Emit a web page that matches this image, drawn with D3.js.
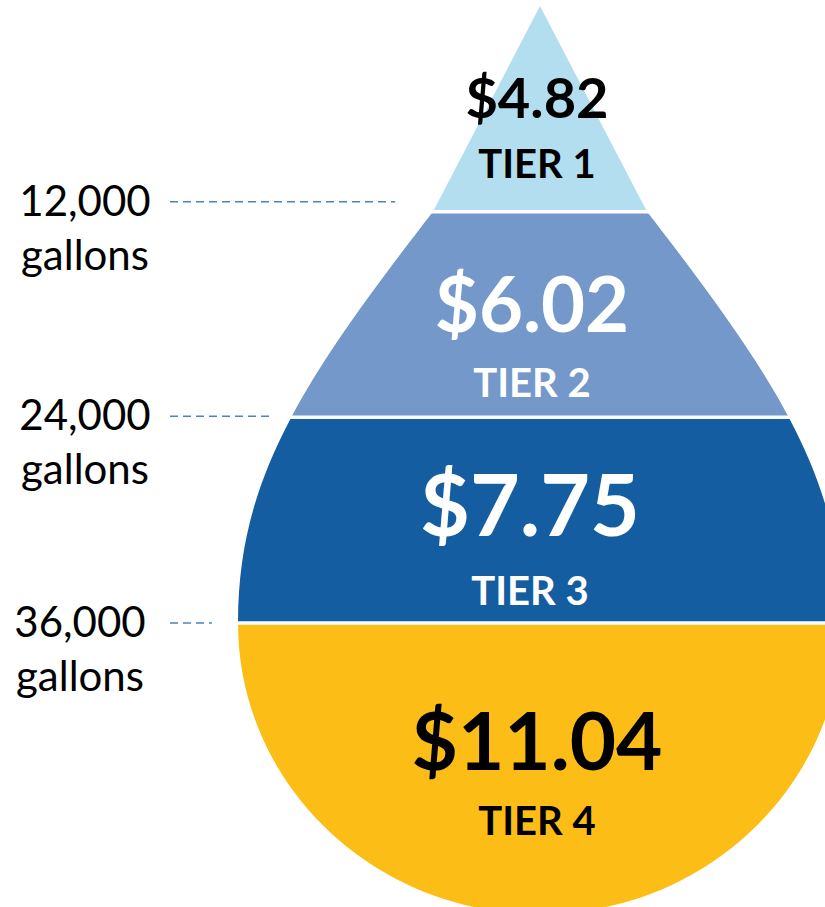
<!DOCTYPE html>
<html>
<head>
<meta charset="utf-8">
<script src="https://cdn.jsdelivr.net/npm/d3@7"></script>
<style>
  body { margin: 0; background: #fff; }
  svg { display: block; }
</style>
</head>
<body>
<div id="my_dataviz"></div>
<script>
// data: price per 1,000 gallons for each tier, and the usage breaks between tiers
var tierNames = ["TIER 1", "TIER 2", "TIER 3", "TIER 4"];
var tierRates = [4.82, 6.02, 7.75, 11.04];
var tierBreaks = [0, 12000, 24000, 36000];
var breakLabels = ["12,000", "24,000", "36,000"];
var breakUnit = "gallons";

// styles
var tierColors = ["#B2DEEF", "#7398C9", "#145DA0", "#FCBE16"];
var textColors = ["#000", "#fff", "#fff", "#000"];
var valueSizes = [56, 76, 86, 80];
var labelSize = 40;

var width = 825, height = 907;
var cx = 540;          // centre line of the drop
var gap = 3.5;         // white gap between tiers

var svg = d3.select("#my_dataviz")
  .append("svg")
    .attr("width", width)
    .attr("height", height);

// gallons -> vertical position (tip of the drop is 0 gallons)
var y = d3.scaleLinear()
  .domain([0, 36000])
  .range([6, 623]);

// drop outline: straight tip, curved shoulders, elliptical bottom
var shoulderW = 107, maxW = 302, bottomR = 291;
function dropPath() {
  var p = d3.path();
  var ys = y(12000), yw = y(36000);
  p.moveTo(cx, y(0));
  p.lineTo(cx - shoulderW, ys);
  p.bezierCurveTo(cx - shoulderW - 136, ys + 175, cx - maxW, yw - 140, cx - maxW, yw);
  // bottom half ellipse drawn as two quarter curves
  var k = 0.5523;
  p.bezierCurveTo(cx - maxW, yw + bottomR * k, cx - maxW * k, yw + bottomR, cx, yw + bottomR);
  p.bezierCurveTo(cx + maxW * k, yw + bottomR, cx + maxW, yw + bottomR * k, cx + maxW, yw);
  p.bezierCurveTo(cx + maxW, yw - 140, cx + shoulderW + 136, ys + 175, cx + shoulderW, ys);
  p.closePath();
  return p.toString();
}
function leftEdge(yy) {
  // rough left edge used to stop the dashed guide lines
  if (yy <= y(12000)) return cx - shoulderW * (yy - y(0)) / (y(12000) - y(0));
  var t = (yy - y(12000)) / (y(36000) - y(12000));
  return cx - (shoulderW + (maxW - shoulderW) * Math.sin(t * Math.PI / 2));
}

var tiers = tierRates.map(function(d, i) {
  var lo = tierBreaks[i];
  var hi = i < tierBreaks.length - 1 ? tierBreaks[i + 1] : null;
  return {name: tierNames[i], rate: d, lo: lo, hi: hi, i: i};
});

var defs = svg.append("defs");
defs.selectAll("clipPath")
  .data(tiers)
  .enter()
  .append("clipPath")
    .attr("id", function(d) { return "clip" + d.i; })
  .append("rect")
    .attr("x", 0)
    .attr("width", width)
    .attr("y", function(d) { return d.i == 0 ? -10 : y(d.lo) + gap / 2; })
    .attr("height", function(d) {
      var top = d.i == 0 ? -10 : y(d.lo) + gap / 2;
      var bot = d.hi == null ? height + 50 : y(d.hi) - gap / 2;
      return bot - top;
    });

var dShape = dropPath();

// the tier bands
svg.selectAll("myTiers")
  .data(tiers)
  .enter()
  .append("path")
    .attr("d", dShape)
    .attr("clip-path", function(d) { return "url(#clip" + d.i + ")"; })
    .style("fill", function(d) { return tierColors[d.i]; });

// band centres for the text
function bandMid(d) {
  var top = y(d.lo);
  var bot = d.hi == null ? height : y(d.hi);
  return (top + bot) / 2;
}
var valueDy = [9, 17, 16, 5];
var labelDy = [69, 82, 85, 70];
var textX = [537, 532, 530, 537];

svg.selectAll("myValues")
  .data(tiers)
  .enter()
  .append("text")
    .attr("x", function(d) { return textX[d.i]; })
    .attr("y", function(d) { return bandMid(d) + valueDy[d.i]; })
    .attr("text-anchor", "middle")
    .style("font-family", "Lato, 'Open Sans', sans-serif")
    .style("font-weight", "bold")
    .style("font-size", function(d) { return valueSizes[d.i] + "px"; })
    .style("fill", function(d) { return textColors[d.i]; })
    .text(function(d) { return "$" + d3.format(".2f")(d.rate); });

svg.selectAll("myLabels")
  .data(tiers)
  .enter()
  .append("text")
    .attr("x", function(d) { return textX[d.i]; })
    .attr("y", function(d) { return bandMid(d) + labelDy[d.i]; })
    .attr("text-anchor", "middle")
    .style("font-family", "Lato, 'Open Sans', sans-serif")
    .style("font-weight", "bold")
    .style("font-size", labelSize + "px")
    .style("fill", function(d) { return textColors[d.i]; })
    .text(function(d) { return d.name; });

// break labels on the left with dashed guides
var breaks = breakLabels.map(function(d, i) {
  return {label: d, gal: tierBreaks[i + 1], i: i};
});
var guideShift = [-10, -1, 0];
var labelX = [85, 85, 80];

var guides = svg.selectAll("myGuides")
  .data(breaks)
  .enter()
  .append("g");

guides.append("line")
    .attr("x1", 170)
    .attr("x2", function(d) { var yy = y(d.gal) + guideShift[d.i]; return leftEdge(yy) - 26 - (d.i == 0 ? 17 : 0); })
    .attr("y1", function(d) { return y(d.gal) + guideShift[d.i]; })
    .attr("y2", function(d) { return y(d.gal) + guideShift[d.i]; })
    .attr("stroke", "#4F81BD")
    .attr("stroke-width", 1.5)
    .attr("stroke-dasharray", "8,5");

guides.append("text")
    .attr("x", function(d) { return labelX[d.i]; })
    .attr("y", function(d) { return y(d.gal) + guideShift[d.i] + 14; })
    .attr("text-anchor", "middle")
    .style("font-family", "Lato, 'Open Sans', sans-serif")
    .style("font-size", "42px")
    .style("fill", "#000")
    .text(function(d) { return d.label; });

guides.append("text")
    .attr("x", function(d) { return labelX[d.i]; })
    .attr("y", function(d) { return y(d.gal) + guideShift[d.i] + 68; })
    .attr("text-anchor", "middle")
    .style("font-family", "Lato, 'Open Sans', sans-serif")
    .style("font-size", "42px")
    .style("fill", "#000")
    .text(breakUnit);
</script>
</body>
</html>
